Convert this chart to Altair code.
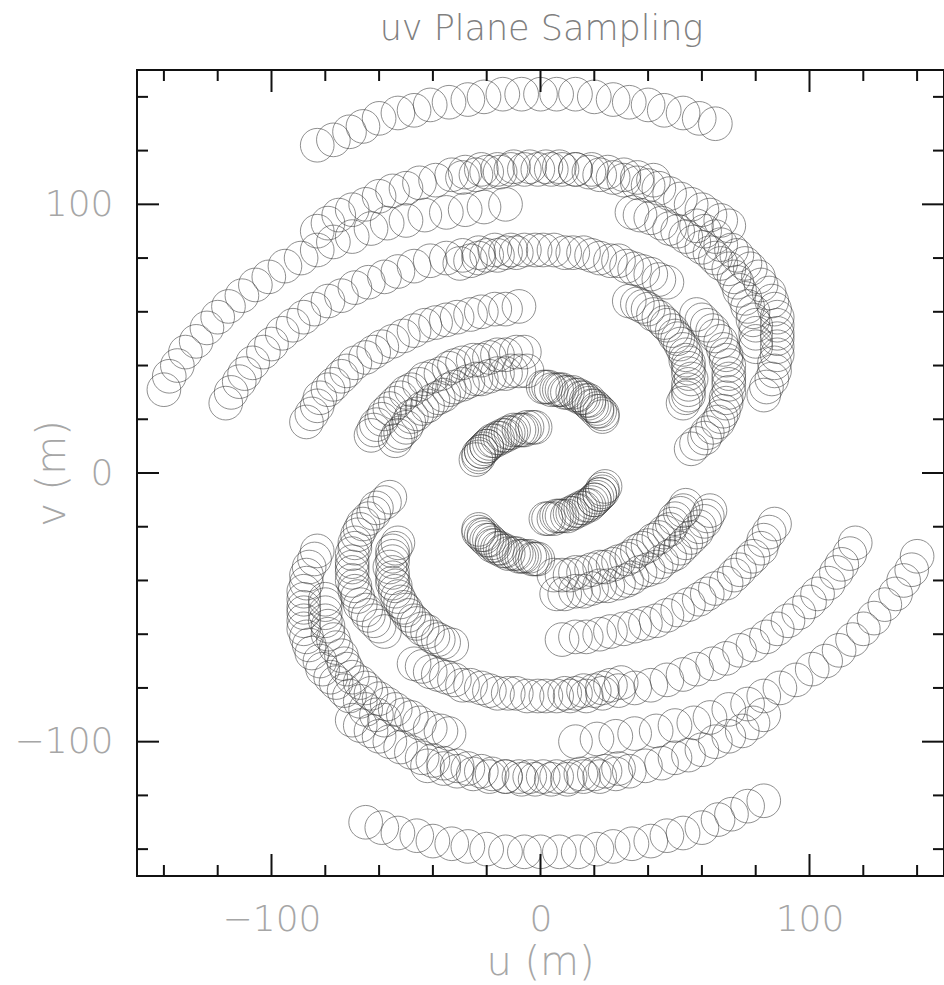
import altair as alt
import pandas as pd

# uv tracks (metres), one pair of lists per baseline, sampled at the same hour angles
u_1_0 = [-54, -53, -52, -50, -49, -48, -46, -44, -42, -40, -38, -36, -34, -32, -29, -27, -24, -22, -19, -16, -13, -11, -8, -5]
v_1_0 = [12, 14, 15, 17, 19, 21, 22, 24, 25, 27, 28, 29, 31, 32, 33, 34, 35, 35, 36, 37, 37, 38, 38, 38]
u_2_0 = [-117, -115, -112, -110, -107, -103, -100, -96, -92, -88, -84, -79, -74, -69, -64, -58, -53, -47, -41, -35, -29, -23, -17, -11]
v_2_0 = [26, 30, 34, 37, 41, 45, 48, 52, 55, 58, 61, 64, 66, 69, 71, 73, 75, 77, 79, 80, 81, 82, 83, 83]
u_3_0 = [-140, -138, -135, -132, -128, -124, -120, -116, -111, -106, -101, -95, -89, -83, -77, -70, -63, -57, -50, -43, -35, -28, -21, -13]
v_3_0 = [31, 36, 40, 45, 49, 54, 58, 62, 66, 70, 73, 77, 80, 83, 86, 88, 91, 93, 94, 96, 97, 98, 99, 100]
u_2_1 = [-63, -62, -61, -59, -58, -56, -54, -52, -50, -48, -45, -43, -40, -37, -34, -32, -29, -25, -22, -19, -16, -13, -9, -6]
v_2_1 = [14, 16, 18, 20, 22, 24, 26, 28, 30, 31, 33, 35, 36, 37, 39, 40, 41, 42, 42, 43, 44, 44, 45, 45]
u_3_1 = [-87, -85, -83, -82, -79, -77, -74, -72, -69, -65, -62, -59, -55, -51, -47, -43, -39, -35, -31, -26, -22, -17, -13, -8]
v_3_1 = [19, 22, 25, 28, 31, 33, 36, 38, 41, 43, 45, 47, 49, 51, 53, 55, 56, 57, 58, 59, 60, 61, 61, 62]
u_3_2 = [-24, -23, -23, -22, -22, -21, -20, -20, -19, -18, -17, -16, -15, -14, -13, -12, -11, -10, -8, -7, -6, -5, -3, -2]
v_3_2 = [5, 6, 7, 8, 8, 9, 10, 10, 11, 12, 12, 13, 13, 14, 14, 15, 15, 16, 16, 16, 16, 17, 17, 17]
u_a_0 = [-83, -79, -75, -70, -65, -60, -55, -50, -45, -39, -33, -28, -22, -16, -10, -4, 2, 7, 13, 19, 25, 31, 36, 42]
v_a_0 = [90, 93, 96, 98, 100, 103, 105, 106, 108, 109, 111, 112, 113, 113, 114, 114, 114, 114, 113, 113, 112, 111, 110, 109]
u_a_1 = [-30, -26, -23, -20, -16, -13, -9, -6, -2, 1, 5, 9, 12, 16, 19, 22, 26, 29, 32, 35, 38, 41, 44, 47]
v_a_1 = [78, 79, 80, 81, 81, 82, 82, 83, 83, 83, 83, 82, 82, 82, 81, 80, 79, 79, 77, 76, 75, 74, 72, 71]
u_a_2 = [33, 36, 38, 40, 42, 44, 46, 47, 49, 50, 51, 52, 53, 54, 54, 55, 55, 55, 56, 55, 55, 55, 54, 53]
v_a_2 = [64, 63, 62, 61, 59, 58, 56, 55, 53, 51, 50, 48, 46, 44, 42, 41, 39, 37, 35, 33, 31, 29, 28, 26]
u_a_3 = [58, 60, 62, 64, 65, 67, 68, 69, 69, 70, 70, 70, 70, 70, 69, 69, 68, 67, 66, 64, 62, 61, 58, 56]
v_a_3 = [59, 57, 55, 53, 51, 49, 46, 44, 42, 40, 37, 35, 33, 30, 28, 26, 23, 21, 19, 17, 15, 13, 11, 9]
u_b_0 = [-83, -77, -71, -66, -60, -53, -47, -41, -34, -27, -21, -14, -7, 0, 6, 13, 20, 27, 33, 40, 46, 53, 59, 65]
v_b_0 = [122, 124, 127, 129, 132, 134, 135, 137, 138, 139, 140, 141, 141, 141, 141, 141, 140, 139, 138, 137, 135, 134, 132, 130]
u_b_1 = [-29, -24, -20, -15, -11, -6, -1, 4, 8, 13, 18, 22, 27, 31, 36, 40, 44, 48, 52, 56, 60, 63, 67, 70]
v_b_1 = [110, 111, 112, 112, 113, 113, 113, 113, 113, 113, 112, 111, 110, 109, 108, 107, 106, 104, 102, 100, 98, 96, 94, 92]
u_b_2 = [34, 37, 41, 45, 48, 51, 54, 57, 60, 63, 65, 67, 70, 72, 73, 74, 76, 77, 79, 79, 80, 80, 80, 80]
v_b_2 = [97, 96, 95, 93, 91, 90, 88, 86, 84, 82, 80, 78, 76, 73, 71, 68, 65, 62, 60, 57, 55, 52, 49, 47]
u_b_3 = [58, 61, 65, 67, 71, 73, 76, 78, 81, 82, 85, 86, 87, 88, 88, 88, 88, 88, 88, 87, 87, 86, 84, 83]
v_b_3 = [92, 90, 88, 85, 83, 81, 78, 76, 73, 70, 67, 64, 61, 58, 55, 52, 50, 47, 44, 41, 38, 35, 32, 29]
u_b_a = [1, 2, 3, 4, 6, 7, 8, 9, 10, 12, 13, 14, 15, 16, 17, 18, 18, 19, 20, 21, 21, 22, 23, 23]
v_b_a = [32, 32, 32, 31, 31, 31, 31, 30, 30, 30, 29, 29, 28, 28, 27, 27, 26, 25, 25, 24, 23, 23, 22, 21]

tracks = [
    (u_1_0, v_1_0), (u_2_0, v_2_0), (u_3_0, v_3_0), (u_2_1, v_2_1), (u_3_1, v_3_1), (u_3_2, v_3_2),
    (u_a_0, v_a_0), (u_a_1, v_a_1), (u_a_2, v_a_2), (u_a_3, v_a_3),
    (u_b_0, v_b_0), (u_b_1, v_b_1), (u_b_2, v_b_2), (u_b_3, v_b_3), (u_b_a, v_b_a),
]

tick_minor = [-140, -120, -80, -60, -40, -20, 20, 40, 60, 80, 120, 140]
tick_major = [-100, 0, 100]

# every baseline samples both (u, v) and its conjugate point (-u, -v)
rows = []
for us, vs in tracks:
    for u, v in zip(us, vs):
        rows.append({"u": u, "v": v})
        rows.append({"u": -u, "v": -v})
df = pd.DataFrame(rows)

W, H = 807, 806
sx = alt.Scale(domain=[-150, 150], nice=False, zero=False)
sy = alt.Scale(domain=[-150, 150], nice=False, zero=False)
FONT = "DejaVu Sans"
LAB = "#a6a6a6"

pts = alt.Chart(df).mark_point(shape="circle", filled=False, size=1134, stroke="#3a3a3a",
                               strokeWidth=1, strokeOpacity=0.8, clip=True).encode(
    x=alt.X("u:Q", scale=sx, axis=alt.Axis(values=tick_major, ticks=False, tickSize=0, domain=False,
                                           grid=False, labelFont=FONT, labelFontSize=36, labelFontWeight=200,
                                           labelColor=LAB, labelPadding=26, title="u (m)", titleFont=FONT,
                                           titleFontSize=40, titleFontWeight=200, titleColor=LAB,
                                           titleX=403, titleY=86, titleBaseline="middle", titleAlign="center")),
    y=alt.Y("v:Q", scale=sy, axis=alt.Axis(values=tick_major, ticks=False, tickSize=0, domain=False,
                                           grid=False, labelFont=FONT, labelFontSize=36, labelFontWeight=200,
                                           labelColor=LAB, labelPadding=24, title="v (m)", titleFont=FONT,
                                           titleFontSize=40, titleFontWeight=200, titleColor=LAB,
                                           titleX=-85, titleY=403, titleAngle=270, titleBaseline="middle",
                                           titleAlign="center")),
)


def ticks(values, n):
    base = alt.Chart(pd.DataFrame({"t": values})).mark_rule(color="#111", strokeWidth=2)
    xs = alt.X("t:Q", scale=sx, title="u (m)")
    ys = alt.Y("t:Q", scale=sy, title="v (m)")
    return [
        base.encode(x=xs, y=alt.value(H), y2=alt.value(H - n)),
        base.encode(x=xs, y=alt.value(0), y2=alt.value(n)),
        base.encode(y=ys, x=alt.value(0), x2=alt.value(n)),
        base.encode(y=ys, x=alt.value(W), x2=alt.value(W - n)),
    ]


title = alt.Chart(pd.DataFrame({"t": ["uv Plane Sampling"]})).mark_text(
    font=FONT, fontSize=35, fontWeight=200, color="#808080", align="center", baseline="alphabetic"
).encode(x=alt.value(W / 2 + 1), y=alt.value(-30), text="t:N")

chart = alt.layer(pts, *ticks(tick_minor, 11), *ticks(tick_major, 22), title).properties(
    width=W, height=H,
    padding={"left": 137, "top": 70, "right": 0, "bottom": 109},
    autosize=alt.AutoSizeParams(type="none"),
).configure_view(stroke="#111", strokeWidth=2)

chart.save("out.html", embed_options={"renderer": "svg", "actions": False})
